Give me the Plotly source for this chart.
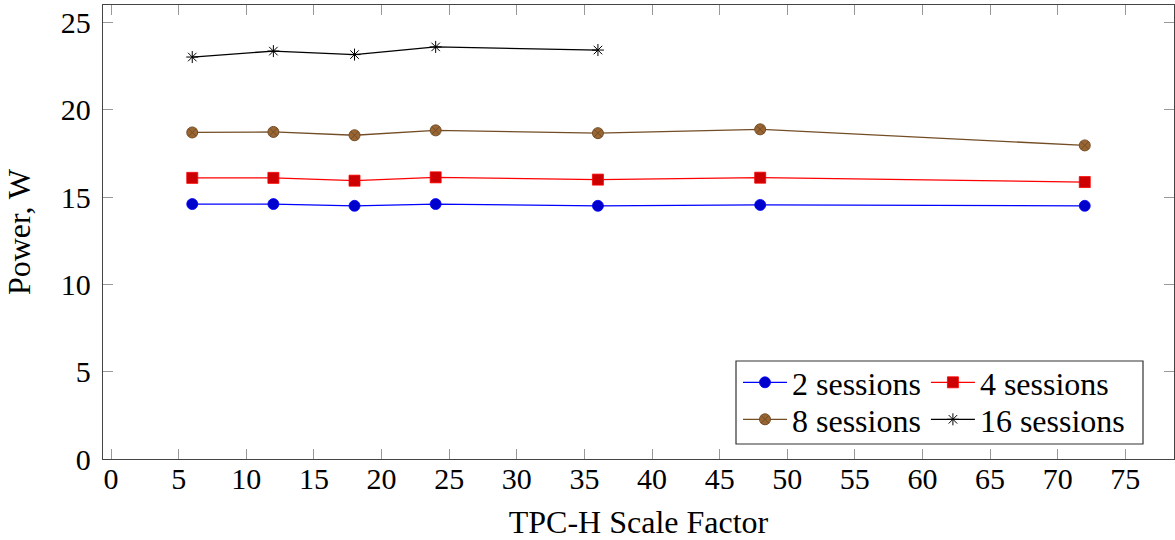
import plotly.graph_objects as go

scale_factors = [6, 12, 18, 24, 36, 48, 72]
scale_factors_16 = [6, 12, 18, 24, 36]

power_2 = [14.6, 14.6, 14.5, 14.6, 14.5, 14.55, 14.5]
power_4 = [16.1, 16.1, 15.94, 16.13, 16.0, 16.11, 15.86]
power_8 = [18.7, 18.73, 18.54, 18.82, 18.66, 18.88, 17.96]
power_16 = [23.02, 23.36, 23.16, 23.6, 23.42]

x_ticks = list(range(0, 80, 5))
y_ticks = list(range(0, 30, 5))

FONT = "Liberation Serif"
FS = 30
FS_TITLE = 32
FS_LEG = 32

fig = go.Figure()

fig.add_trace(go.Scatter(
    x=scale_factors, y=power_2, name="2 sessions", mode="lines+markers",
    line=dict(color="rgb(0,0,255)", width=1.3),
    marker=dict(symbol="circle", size=11, color="rgb(0,0,204)",
                line=dict(color="rgb(0,0,255)", width=0.8)),
    legend="legend"))
fig.add_trace(go.Scatter(
    x=scale_factors, y=power_4, name="4 sessions", mode="lines+markers",
    line=dict(color="rgb(255,0,0)", width=1.3),
    marker=dict(symbol="square", size=11, color="rgb(204,0,0)",
                line=dict(color="rgb(255,0,0)", width=0.8)),
    legend="legend"))
fig.add_trace(go.Scatter(
    x=scale_factors, y=power_8, name="8 sessions", mode="lines+markers",
    line=dict(color="rgb(115,77,38)", width=1.3),
    marker=dict(symbol="circle-x", size=11, color="rgb(153,102,51)",
                line=dict(color="rgb(115,77,38)", width=1)),
    legend="legend2"))
fig.add_trace(go.Scatter(
    x=scale_factors_16, y=power_16, name="16 sessions", mode="lines+markers",
    line=dict(color="black", width=1.3),
    marker=dict(symbol="asterisk-open", size=10, color="black",
                line=dict(color="black", width=1.0)),
    legend="legend2"))

L, T, W, H = 103, 5, 1071, 454

def px_x(p):
    return (p - L) / W

def px_y(p):
    return (T + H - p) / H

legend_common = dict(
    orientation="h", xanchor="left", yanchor="top",
    bgcolor="rgba(0,0,0,0)", borderwidth=0,
    itemwidth=44, tracegroupgap=0, itemclick=False,
    font=dict(family=FONT, size=FS_LEG, color="black"),
)

fig.update_layout(
    width=1175, height=540,
    margin=dict(l=L, r=1175 - L - W, t=T, b=540 - T - H),
    paper_bgcolor="white", plot_bgcolor="white",
    font=dict(family=FONT, size=FS, color="black"),
    legend=dict(x=px_x(738), y=px_y(355), **legend_common),
    legend2=dict(x=px_x(738), y=px_y(392), **legend_common),
    showlegend=True,
    xaxis=dict(
        range=[-0.6, 78.6], tickmode="array", tickvals=x_ticks,
        ticktext=[str(v) for v in x_ticks],
        ticks="inside", ticklen=10, tickwidth=1, tickcolor="#999",
        showline=True, linecolor="#444", linewidth=1.3, mirror="allticks",
        showgrid=False, zeroline=False, ticklabelstandoff=-7,
        tickfont=dict(family=FONT, size=FS, color="black"),
        title=dict(text="TPC-H Scale Factor", font=dict(family=FONT, size=FS_TITLE), standoff=16),
    ),
    yaxis=dict(
        range=[0, 26], tickmode="array", tickvals=y_ticks,
        ticktext=[str(v) for v in y_ticks],
        ticks="inside", ticklen=10, tickwidth=1, tickcolor="#999",
        showline=True, linecolor="#444", linewidth=1.3, mirror="allticks",
        showgrid=False, zeroline=False, ticklabelstandoff=5,
        tickfont=dict(family=FONT, size=FS, color="black"),
        title=dict(text="Power, W", font=dict(family=FONT, size=FS_TITLE), standoff=20),
    ),
    shapes=[dict(type="rect", xref="paper", yref="paper",
                 x0=px_x(736), x1=px_x(1143), y0=px_y(444), y1=px_y(361),
                 line=dict(color="#333", width=1.2), fillcolor="white", layer="below")],
)

fig.write_html("out.html")
